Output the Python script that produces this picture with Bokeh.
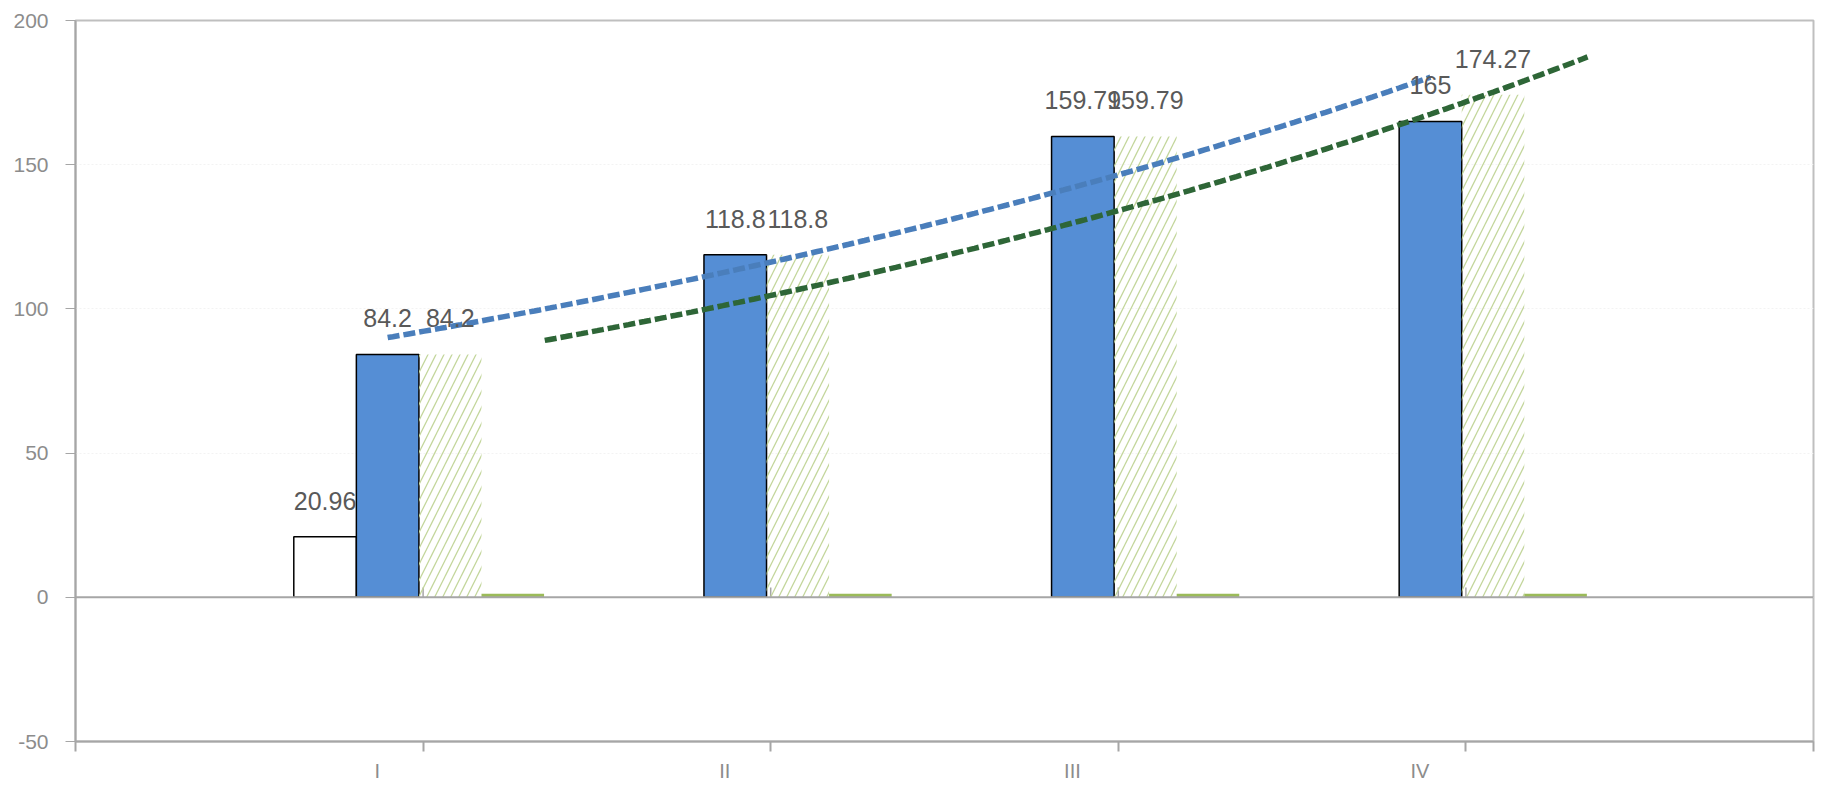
import numpy as np
from bokeh.plotting import figure
from bokeh.models import (Range1d, FixedTicker, CustomJSTickFormatter, LabelSet,
                          ColumnDataSource, Span)
from bokeh.core.properties import value
from bokeh.embed import file_html
from bokeh.resources import INLINE

# ---- data ----
categories = [1, 2, 3, 4]
tick_labels = ["I", "II", "III", "IV"]
white_vals = [20.96, np.nan, np.nan, np.nan]
blue_vals = [84.2, 118.8, 159.79, 165.0]
hatch_vals = [84.2, 118.8, 159.79, 174.27]
green_vals = [1.2, 1.2, 1.2, 1.2]
y_ticks = [-50, 0, 50, 100, 150, 200]

# ---- style / position constants ----
BAR_W = 0.18
OFF_WHITE, OFF_BLUE, OFF_HATCH, OFF_GREEN = -0.282, -0.102, 0.078, 0.258
OFF_GREEN_TREND = 0.35
LABEL_SHIFT = -0.132
FONT = "Liberation Sans"
BLUE = "#558ED5"
cats = np.array(categories, dtype=float)

p = figure(width=1820, height=785, output_backend="svg", toolbar_location=None,
           x_range=Range1d(0, 5), y_range=Range1d(-50, 200),
           min_border_left=75, min_border_right=7, min_border_top=20, min_border_bottom=44)
p.outline_line_color = "#bfbfbf"
p.outline_line_width = 2
p.background_fill_color = "white"
p.border_fill_color = "white"

# grid
p.xgrid.grid_line_color = None
p.ygrid.ticker = FixedTicker(ticks=y_ticks)
p.ygrid.grid_line_color = "#f3f3f3"
p.ygrid.grid_line_dash = "2 2"

# y axis
p.yaxis.ticker = FixedTicker(ticks=y_ticks)
p.yaxis.formatter = CustomJSTickFormatter(code="return tick.toString();")
p.yaxis.axis_line_color = "#a6a6a6"
p.yaxis.axis_line_width = 2
p.yaxis.major_tick_line_color = "#a6a6a6"
p.yaxis.major_tick_out = 10
p.yaxis.major_tick_in = 0
p.yaxis.minor_tick_line_color = None
p.yaxis.major_label_standoff = 17
p.yaxis.major_label_text_font = FONT
p.yaxis.major_label_text_font_size = "21px"
p.yaxis.major_label_text_color = "#8c8c8c"

# x axis
label_pos = [round(c + LABEL_SHIFT, 3) for c in categories]
minor = [0] + categories + [5]
p.xaxis.ticker = FixedTicker(ticks=label_pos, minor_ticks=minor)
p.xaxis.formatter = CustomJSTickFormatter(args=dict(labels=tick_labels),
                                          code="return labels[index] || '';")
p.xaxis.axis_line_color = "#a6a6a6"
p.xaxis.axis_line_width = 2
p.xaxis.major_tick_line_color = None
p.xaxis.major_tick_out = 0
p.xaxis.major_tick_in = 0
p.xaxis.minor_tick_line_color = "#a6a6a6"
p.xaxis.minor_tick_line_width = 2
p.xaxis.minor_tick_out = 10
p.xaxis.minor_tick_in = 0
p.xaxis.major_label_standoff = 8
p.xaxis.major_label_text_font = FONT
p.xaxis.major_label_text_font_size = "20px"
p.xaxis.major_label_text_color = "#8c8c8c"

# zero line with small ticks
p.add_layout(Span(location=0, dimension="width", line_color="#a6a6a6", line_width=2))
p.segment(x0=cats, y0=[0] * 4, x1=cats, y1=[3.4] * 4, line_color="#a6a6a6", line_width=1.5)

# bars
wv = np.array(white_vals)
mask = ~np.isnan(wv)
p.vbar(x=cats[mask] + OFF_WHITE, top=wv[mask], bottom=0, width=BAR_W,
       fill_color="white", line_color="black", line_width=1.5)
p.vbar(x=cats + OFF_BLUE, top=blue_vals, bottom=0, width=BAR_W,
       fill_color=BLUE, line_color="black", line_width=1.5)
p.vbar(x=cats + OFF_HATCH, top=hatch_vals, bottom=0, width=BAR_W,
       fill_color=None, line_color=None, hatch_pattern="/", hatch_color="#c3d69b",
       hatch_weight=1.3, hatch_scale=16)
p.vbar(x=cats + OFF_GREEN, top=green_vals, bottom=0, width=BAR_W,
       fill_color="#9bbb59", line_color=None)

# exponential trend lines
def exp_fit(vals, xs):
    b, a = np.polyfit(cats, np.log(vals), 1)
    return np.exp(a + b * xs)

xs = np.linspace(1, 4, 200)
p.line(xs + OFF_BLUE, exp_fit(blue_vals, xs), line_color="#4a7ebb", line_width=5.5,
       line_dash="12 4")
p.line(xs + OFF_GREEN_TREND, exp_fit(hatch_vals, xs), line_color="#2e6637", line_width=5.5,
       line_dash="12 4")

# data labels
def fmt(v):
    return f"{v:g}"

lab_x = [c + OFF_WHITE for c, v in zip(categories, white_vals) if not np.isnan(v)] + \
        [c + OFF_BLUE for c in categories] + [c + OFF_HATCH for c in categories]
lab_y = [v for v in white_vals if not np.isnan(v)] + blue_vals + hatch_vals
lab_t = [fmt(v) for v in lab_y]
src = ColumnDataSource(dict(x=lab_x, y=lab_y, t=lab_t))
p.add_layout(LabelSet(x="x", y="y", text="t", source=src, y_offset=27,
                      text_align="center", text_baseline="alphabetic",
                      text_font=value(FONT), text_font_size="25px", text_color="#595959"))

open("out.html", "w").write(file_html(p, INLINE))
